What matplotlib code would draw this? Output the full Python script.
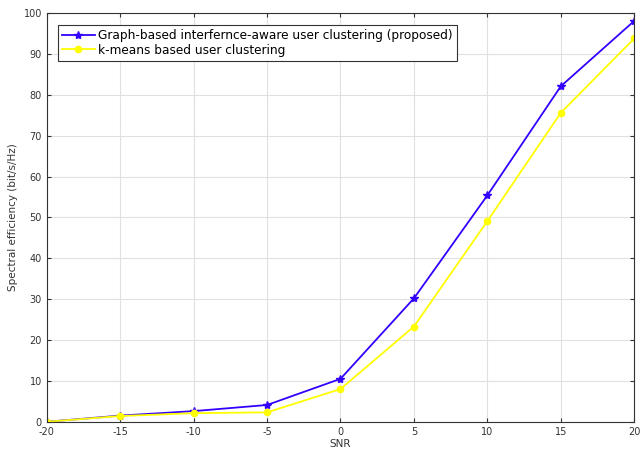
import matplotlib
matplotlib.use("Agg")
import matplotlib.pyplot as plt

plt.rcParams['axes.unicode_minus'] = False

# data
snr = [-20, -15, -10, -5, 0, 5, 10, 15, 20]
graph_based = [0, 1.5, 2.6, 4.1, 10.5, 30.2, 55.4, 82.1, 98.1]
kmeans = [0, 1.4, 2.1, 2.3, 8.0, 23.3, 49.1, 75.6, 93.8]

fig = plt.figure(figsize=(6.4, 4.53), dpi=100)
ax = fig.add_axes([0.073, 0.069, 0.918, 0.902])

ax.plot(snr, graph_based, color='#3300ff', marker='*', markersize=6, linewidth=1.3,
        label='Graph-based interfernce-aware user clustering (proposed)')
ax.plot(snr, kmeans, color='#ffff00', marker='o', markersize=4.5, linewidth=1.3,
        label='k-means based user clustering')

ax.set_xlim(-20, 20)
ax.set_ylim(0, 100)
ax.set_xticks(range(-20, 21, 5))
ax.set_yticks(range(0, 101, 10))
ax.grid(True, color='#e0e0e0', linewidth=0.8)
ax.tick_params(direction='in', top=True, right=True, labelsize=7, colors='#333333', length=3)
for s in ax.spines.values():
    s.set_color('#333333')
    s.set_linewidth(0.8)
ax.set_xlabel('SNR', fontsize=7.5, color='#333333', labelpad=2)
ax.set_ylabel('Spectral efficiency (bit/s/Hz)', fontsize=7.5, color='#333333', labelpad=4)

leg = ax.legend(loc='upper left', bbox_to_anchor=(0.019, 0.972), fontsize=8.7, fancybox=False,
                framealpha=1, edgecolor='#333333', borderpad=0.35, labelspacing=0.15,
                handlelength=2.7, handletextpad=0.3, borderaxespad=0)
leg.get_frame().set_linewidth(0.8)

plt.savefig('out.png', dpi=100)
